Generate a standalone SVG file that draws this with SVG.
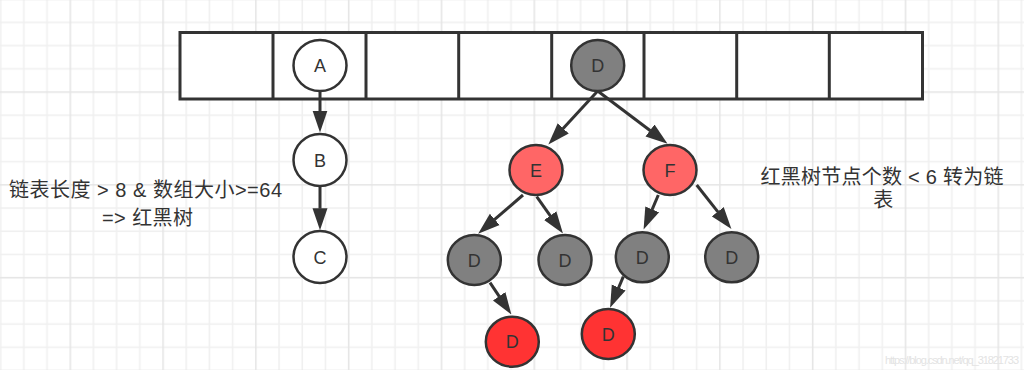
<svg xmlns="http://www.w3.org/2000/svg" width="1024" height="370" viewBox="0 0 1024 370">
  <style>
    .node { stroke: #333333; stroke-width: 2.5; }
    .white { fill: #ffffff; }
    .gray { fill: #808080; }
    .pink { fill: #ff6666; }
    .red { fill: #ff3333; }
    .lbl { font-family: "Liberation Sans", Arial, sans-serif; font-size: 18px; fill: #333333; text-anchor: middle; }
    .note { font-family: "Liberation Sans", "Noto Sans CJK SC", sans-serif; font-size: 20px; fill: #333333; text-anchor: middle; }
    .edge { stroke: #333333; stroke-width: 3; fill: none; marker-end: url(#ah); }
    .cell { fill: #ffffff; stroke: #333333; stroke-width: 3; }
  </style>
  <defs>
    <pattern id="grid" patternUnits="userSpaceOnUse" x="69.5" y="91.3" width="92.8" height="92.8">
      <rect x="0" y="0" width="92.8" height="92.8" fill="#ffffff"/>
      <rect x="23.2" y="0" width="1.5" height="92.8" fill="#f0f0f0"/>
      <rect x="46.4" y="0" width="1.5" height="92.8" fill="#f0f0f0"/>
      <rect x="69.6" y="0" width="1.5" height="92.8" fill="#f0f0f0"/>
      <rect x="0" y="23.2" width="92.8" height="1.5" fill="#f0f0f0"/>
      <rect x="0" y="46.4" width="92.8" height="1.5" fill="#f0f0f0"/>
      <rect x="0" y="69.6" width="92.8" height="1.5" fill="#f0f0f0"/>
      <rect x="0" y="0" width="1.5" height="92.8" fill="#e5e5e5"/>
      <rect x="0" y="0" width="92.8" height="1.5" fill="#e5e5e5"/>
    </pattern>
    <marker id="ah" markerUnits="userSpaceOnUse" markerWidth="22" markerHeight="16" viewBox="0 0 22 16" refX="0.5" refY="8" orient="auto">
      <path d="M0,0.5 L22,8 L0,15.5 z" fill="#333333"/>
    </marker>
  </defs>

  <rect x="0" y="0" width="1024" height="370" fill="url(#grid)"/>

  <g id="array">
    <rect class="cell" x="180" y="32.5" width="742.5" height="66.5"/>
    <line x1="273" y1="32.5" x2="273" y2="99" stroke="#333333" stroke-width="3"/>
    <line x1="366" y1="32.5" x2="366" y2="99" stroke="#333333" stroke-width="3"/>
    <line x1="458.7" y1="32.5" x2="458.7" y2="99" stroke="#333333" stroke-width="3"/>
    <line x1="551.7" y1="32.5" x2="551.7" y2="99" stroke="#333333" stroke-width="3"/>
    <line x1="644" y1="32.5" x2="644" y2="99" stroke="#333333" stroke-width="3"/>
    <line x1="736.7" y1="32.5" x2="736.7" y2="99" stroke="#333333" stroke-width="3"/>
    <line x1="829.3" y1="32.5" x2="829.3" y2="99" stroke="#333333" stroke-width="3"/>
  </g>

  <g id="connectors">
    <line class="edge" x1="320" y1="91" x2="320" y2="111"/>
    <line class="edge" x1="320" y1="186" x2="320" y2="208.7"/>
    <line class="edge" x1="597.7" y1="91" x2="562.9" y2="128.8"/>
    <line class="edge" x1="597.7" y1="91" x2="650.4" y2="130.8"/>
    <line class="edge" x1="523" y1="195" x2="494.4" y2="219.7"/>
    <line class="edge" x1="536.7" y1="196.7" x2="550.5" y2="216.1"/>
    <line class="edge" x1="490" y1="282.7" x2="499.4" y2="296.7"/>
    <line class="edge" x1="658.3" y1="195" x2="652" y2="209.8"/>
    <line class="edge" x1="696.7" y1="185" x2="718.1" y2="212.1"/>
    <line class="edge" x1="623.3" y1="276.7" x2="618.5" y2="288"/>
  </g>

  <g id="node-A">
    <ellipse class="node white" cx="320" cy="65.5" rx="26.5" ry="25.5"/>
    <text class="lbl" x="320" y="72">A</text>
  </g>
  <g id="node-B">
    <ellipse class="node white" cx="320" cy="160" rx="26.5" ry="26"/>
    <text class="lbl" x="320" y="166.5">B</text>
  </g>
  <g id="node-C">
    <ellipse class="node white" cx="320" cy="257" rx="26.5" ry="26"/>
    <text class="lbl" x="320" y="263.5">C</text>
  </g>
  <g id="node-D-root">
    <ellipse class="node gray" cx="597.7" cy="65.5" rx="26.5" ry="25.5"/>
    <text class="lbl" x="597.7" y="72">D</text>
  </g>
  <g id="node-E">
    <ellipse class="node pink" cx="536" cy="170" rx="26.5" ry="25"/>
    <text class="lbl" x="536" y="176.5">E</text>
  </g>
  <g id="node-F">
    <ellipse class="node pink" cx="670" cy="170" rx="26.5" ry="25"/>
    <text class="lbl" x="670" y="176.5">F</text>
  </g>
  <g id="node-D-EL">
    <ellipse class="node gray" cx="474.3" cy="260" rx="26.5" ry="25"/>
    <text class="lbl" x="474.3" y="266.5">D</text>
  </g>
  <g id="node-D-ER">
    <ellipse class="node gray" cx="565" cy="260" rx="26.5" ry="25"/>
    <text class="lbl" x="565" y="266.5">D</text>
  </g>
  <g id="node-D-FL">
    <ellipse class="node gray" cx="642.3" cy="257.3" rx="26.5" ry="25"/>
    <text class="lbl" x="642.3" y="263.8">D</text>
  </g>
  <g id="node-D-FR">
    <ellipse class="node gray" cx="731.7" cy="257.3" rx="26.5" ry="25"/>
    <text class="lbl" x="731.7" y="263.8">D</text>
  </g>
  <g id="node-D-red1">
    <ellipse class="node red" cx="512.3" cy="341.7" rx="26.5" ry="25"/>
    <text class="lbl" x="512.3" y="348.2">D</text>
  </g>
  <g id="node-D-red2">
    <ellipse class="node red" cx="608.3" cy="334" rx="26.5" ry="25"/>
    <text class="lbl" x="608.3" y="340.5">D</text>
  </g>

  <g id="note-left">
    <text class="note" x="145.5" y="197" textLength="273" lengthAdjust="spacing">链表长度 &gt; 8 &amp; 数组大小&gt;=64</text>
    <text class="note" x="147.5" y="225" textLength="91" lengthAdjust="spacing">=&gt; 红黑树</text>
  </g>
  <g id="note-right">
    <text class="note" x="882" y="183.5" textLength="243" lengthAdjust="spacing">红黑树节点个数 &lt; 6 转为链</text>
    <text class="note" x="883.3" y="206.5">表</text>
  </g>

  <text x="952" y="364" font-family="Liberation Sans, Arial, sans-serif" font-size="11" fill="#e3e3e3" text-anchor="middle" textLength="134" lengthAdjust="spacing">https://blog.csdn.net/qq_31821733</text>
</svg>
